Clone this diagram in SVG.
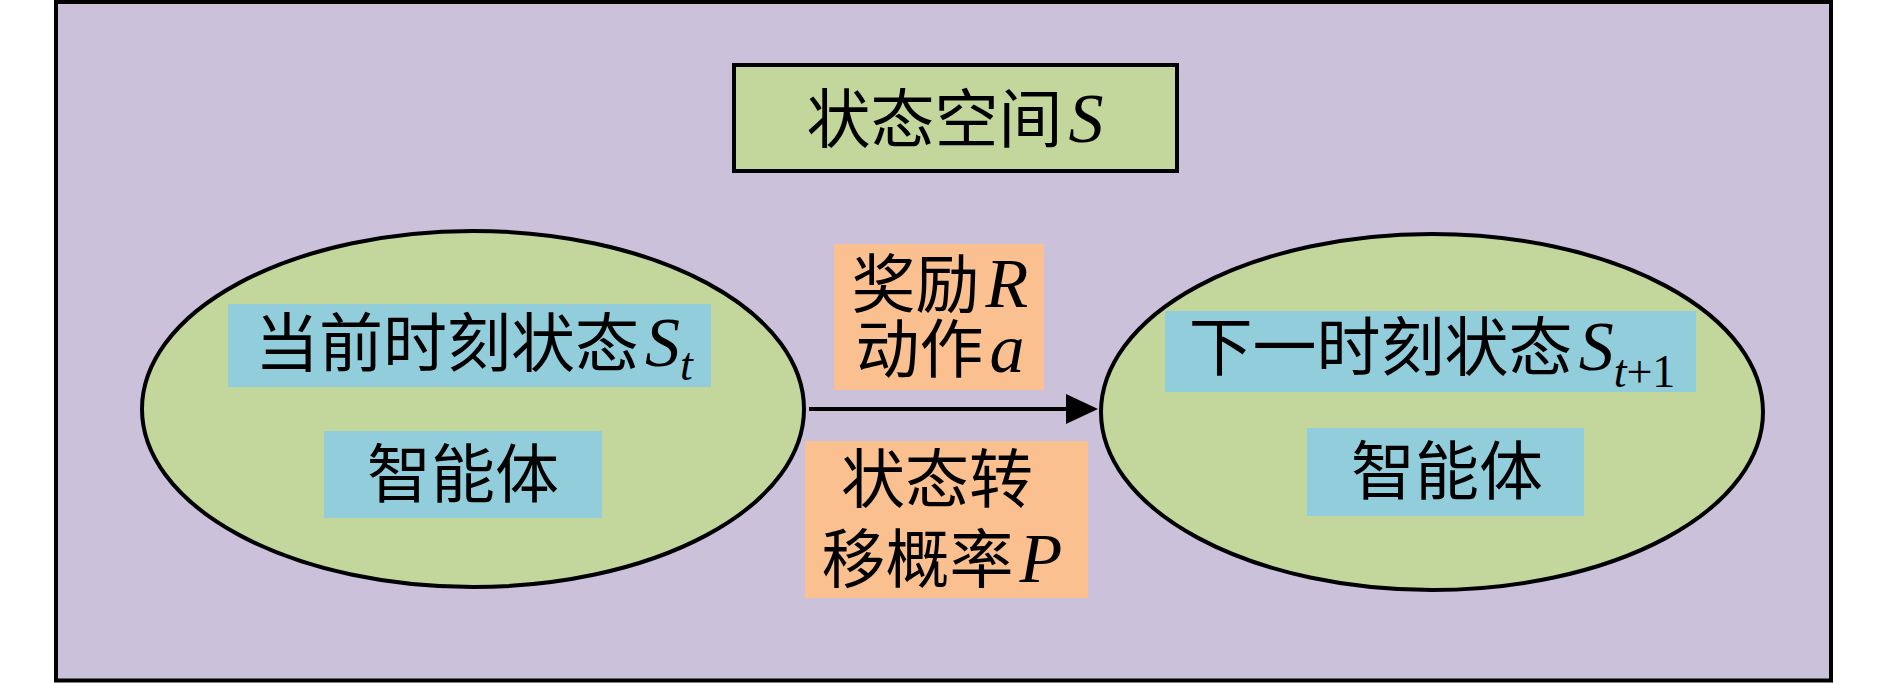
<svg xmlns="http://www.w3.org/2000/svg" width="1890" height="683" viewBox="0 0 1890 683">
<style>
.cjk{font-family:"Noto Sans CJK SC","Noto Sans CJK JP",sans-serif;font-size:64px;fill:#000}
.m{font-family:"Liberation Serif",serif;font-style:italic;font-size:70px}
.sub{font-family:"Liberation Serif",serif;font-style:italic;font-size:46px}
.subr{font-family:"Liberation Serif",serif;font-style:normal;font-size:46px}
.blue{fill:#92CDDC}
.orange{fill:#FAC090}
.node{fill:#C3D69B;stroke:#000;stroke-width:4}
</style>
<defs>
<marker id="arrow" viewBox="0 0 32 30" markerWidth="32" markerHeight="30" refX="0" refY="15" orient="auto" markerUnits="userSpaceOnUse">
<path d="M0,0 L32,15 L0,30 z" fill="#000"/>
</marker>
</defs>
<g id="state-space">
<rect x="56" y="2" width="1775" height="678.5" fill="#CCC1DA" stroke="#000" stroke-width="4"/>
</g>
<g id="title">
<rect x="734" y="65" width="443" height="106" fill="#C3D69B" stroke="#000" stroke-width="4"/>
<text class="cjk" x="955" y="142" text-anchor="middle">状态空间<tspan class="m" dx="6">S</tspan></text>
</g>
<g id="current-state">
<ellipse class="node" cx="473" cy="409" rx="331" ry="178"/>
<rect class="blue" x="228" y="304" width="483" height="83"/>
<text class="cjk" x="474" y="366" text-anchor="middle">当前时刻状态<tspan class="m" dx="6">S</tspan><tspan class="sub" dy="14">t</tspan></text>
<rect class="blue" x="324" y="431" width="278" height="87"/>
<text class="cjk" x="463" y="497" text-anchor="middle">智能体</text>
</g>
<g id="next-state">
<ellipse class="node" cx="1432" cy="412" rx="331" ry="178"/>
<rect class="blue" x="1165" y="311" width="531" height="81"/>
<text class="cjk" x="1432" y="370" text-anchor="middle">下一时刻状态<tspan class="m" dx="6">S</tspan><tspan class="sub" dy="17">t</tspan><tspan class="subr">+1</tspan></text>
<rect class="blue" x="1307" y="428" width="277" height="88"/>
<text class="cjk" x="1447" y="494" text-anchor="middle">智能体</text>
</g>
<g id="label-reward-action">
<rect class="orange" x="834" y="244" width="210" height="146"/>
<text class="cjk" x="940" y="307" text-anchor="middle">奖励<tspan class="m" dx="6">R</tspan></text>
<text class="cjk" x="940" y="372" text-anchor="middle">动作<tspan class="m" dx="6">a</tspan></text>
</g>
<g id="label-transition">
<rect class="orange" x="805" y="441" width="283" height="157"/>
<text class="cjk" x="937" y="502" text-anchor="middle">状态转</text>
<text class="cjk" x="942" y="582" text-anchor="middle">移概率<tspan class="m" dx="6">P</tspan></text>
</g>
<g id="connectors">
<line x1="809" y1="409" x2="1066" y2="409" stroke="#000" stroke-width="4" marker-end="url(#arrow)"/>
</g>
</svg>
